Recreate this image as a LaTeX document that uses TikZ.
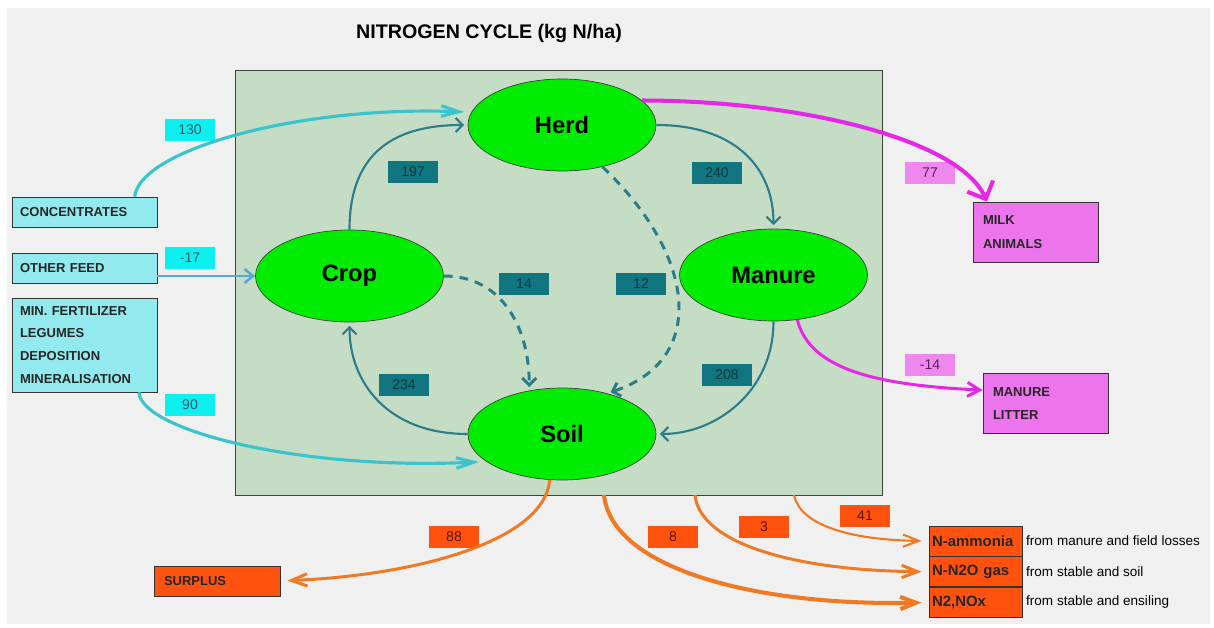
\documentclass[tikz,border=0pt]{standalone}
\usepackage{fontspec}
\setmainfont{Liberation Sans}
\usepackage{tikz}
\usetikzlibrary{positioning}
\usetikzlibrary{shapes.geometric}
\usetikzlibrary{arrows.meta}

\definecolor{bggray}{RGB}{240,240,240}
\definecolor{panelgreen}{RGB}{197,221,197}
\definecolor{poolgreen}{RGB}{0,236,0}
\definecolor{tealbox}{RGB}{18,118,128}
\definecolor{tealtext}{RGB}{8,56,64}
\definecolor{tealline}{RGB}{44,124,138}
\definecolor{cyanbox}{RGB}{12,240,240}
\definecolor{cyantext}{RGB}{40,90,110}
\definecolor{feedcyan}{RGB}{146,234,238}
\definecolor{concline}{RGB}{60,196,206}
\definecolor{ofline}{RGB}{90,166,214}
\definecolor{magline}{RGB}{230,40,230}
\definecolor{violetbox}{RGB}{238,136,238}
\definecolor{violettext}{RGB}{90,30,90}
\definecolor{milkbox}{RGB}{236,116,236}
\definecolor{orangebox}{RGB}{255,82,14}
\definecolor{orangetext}{RGB}{90,20,0}
\definecolor{orangeline}{RGB}{240,122,36}

\begin{document}
\begin{tikzpicture}
  [
    x=0.02cm, y=-0.02cm,
    pool/.style={ellipse, draw=black!75, fill=poolgreen, inner sep=0pt,
      minimum width=3.76cm, minimum height=1.84cm,
      font=\bfseries\fontsize{13.5}{15}\selectfont},
    num/.style={minimum width=1cm, minimum height=0.44cm, inner sep=0pt,
      font=\fontsize{8}{9}\selectfont},
    tnum/.style={num, fill=tealbox, text=tealtext},
    cnum/.style={num, fill=cyanbox, text=cyantext},
    mnum/.style={num, fill=violetbox, text=violettext},
    onum/.style={num, fill=orangebox, text=orangetext},
    srcbox/.style={draw=black!80, fill=feedcyan, text=black!85,
      text width=2.58cm, inner xsep=0.16cm, inner ysep=0pt, align=left,
      font=\bfseries\fontsize{7.4}{13}\selectfont},
    sinkbox/.style={draw=black!80, fill=milkbox, text=black!85,
      text width=2.1cm, inner xsep=0.2cm, inner ysep=0pt, align=left,
      minimum height=1.2cm, font=\bfseries\fontsize{7.4}{13.6}\selectfont},
    gasbox/.style={draw=black!80, fill=orangebox, text=black!85,
      text width=1.74cm, inner xsep=0.06cm, inner ysep=0pt, align=left,
      minimum height=0.6cm, font=\bfseries\fontsize{8.5}{10}\selectfont},
    note/.style={inner sep=0pt, font=\fontsize{7.7}{9}\selectfont},
    ld/.style={draw=tealline, line width=1.2pt, shorten >=2pt,
      -{Straight Barb[length=4pt,width=8pt]}},
    ldd/.style={ld, line width=1.7pt, dash pattern=on 5pt off 4pt},
    feed/.style={draw=concline, line width=1.8pt, shorten >=4pt,
      -{Straight Barb[length=10pt,width=6pt]}},
    ofarr/.style={draw=ofline, line width=1.4pt,
      -{Straight Barb[length=5pt,width=8pt]}},
    milkarr/.style={draw=magline, line width=2.3pt,
      -{Straight Barb[length=8pt,width=16pt]}},
    litarr/.style={draw=magline, line width=1.7pt,
      -{Straight Barb[length=7pt,width=8pt]}},
    lossarr/.style={draw=orangeline, line width=1.7pt, shorten >=4pt,
      -{Straight Barb[length=9pt,width=7pt]}}
  ]
  \fill [white] (0,0) rectangle (1214,628);
  \fill [bggray] (7,8) rectangle (1210,624);
  \useasboundingbox (0,0) rectangle (1214,628);

  \node (title) at (489,33) [font=\bfseries\fontsize{11.2}{13}\selectfont] {NITROGEN CYCLE (kg N/ha)};
  \node (panel) at (558.5,282.5) [draw=black!75, fill=panelgreen, inner sep=0pt,
    minimum width=12.94cm, minimum height=8.5cm] {};

  \node (herd)   at (562,125)   [pool] {Herd};
  \node (crop)   at (349.5,276) [pool] {Crop};
  \node (manure) at (773.5,275) [pool] {Manure};
  \node (soil)   at (562,434)   [pool] {Soil};

  \node (conc)  at (84.5,212) [srcbox, minimum height=0.6cm]  {CONCENTRATES};
  \node (ofeed) at (84.5,268) [srcbox, minimum height=0.6cm]  {OTHER FEED};
  \node (minf)  at (84.5,345) [srcbox, minimum height=1.88cm] {MIN. FERTILIZER\\ LEGUMES\\ DEPOSITION\\ MINERALISATION};

  \node (milk)   at (1035.5,232)   [sinkbox] {MILK\\ ANIMALS};
  \node (litter) at (1045.5,403.5) [sinkbox] {MANURE\\ LITTER};

  \node (surplus) at (217,581) [gasbox, text width=2.12cm, inner xsep=0.2cm,
    font=\bfseries\fontsize{7.4}{9}\selectfont] {SURPLUS};
  \node (nh3) at (975.5,541)        [gasbox] {N-ammonia};
  \node (n2o) [gasbox, below=0mm of nh3] {N-N2O gas};
  \node (nox) [gasbox, below=0mm of n2o] {N2,NOx};
  \node (nh3txt) [note, right=0.07cm of nh3] {from manure and field losses};
  \node (n2otxt) [note, right=0.07cm of n2o] {from stable and soil};
  \node (noxtxt) [note, right=0.07cm of nox] {from stable and ensiling};

  \node (f197) at (413,172)   [tnum] {197};
  \node (f240) at (717,173)   [tnum] {240};
  \node (f208) at (727,375)   [tnum] {208};
  \node (f234) at (404,385)   [tnum] {234};
  \node (f14)  at (524,284)   [tnum] {14};
  \node (f12)  at (641,284)   [tnum] {12};
  \node (f130) at (190,130)   [cnum] {130};
  \node (f17)  at (190,258)   [cnum] {-17};
  \node (f90)  at (190,405)   [cnum] {90};
  \node (f77)  at (930,173)   [mnum] {77};
  \node (f14m) at (930,365)   [mnum] {-14};
  \node (f88)  at (454,537)   [onum] {88};
  \node (f8)   at (673,537)   [onum] {8};
  \node (f3)   at (764,527)   [onum] {3};
  \node (f41)  at (865,516)   [onum] {41};

  \coordinate (nox0) at (604,495);
  \coordinate (n2o0) at (695,495);
  \coordinate (nh30) at (794,495);

  \draw [ld] (crop.north) .. controls +(0,-80) and +(-70,0) .. (herd.west);
  \draw [ld] (herd.east) .. controls +(80,0) and +(0,-60) .. (manure.north);
  \draw [ld] (manure.south) .. controls +(0,70) and +(60,0) .. (soil.east);
  \draw [ld] (soil.west) .. controls +(-80,0) and +(0,60) .. (crop.south);
  \draw [ldd] (crop.east) .. controls +(60,0) and +(0,-60) .. (soil.127);
  \draw [ldd] (herd.-46) .. controls +(95,90) and +(100,-33) .. (soil.42);

  \draw [feed] (conc.17) .. controls +(5,-47) and +(-171,-7) .. (herd.172);
  \draw [ofarr] (ofeed.east |- crop.west) -- (crop.west);
  \draw [feed] (minf.-41) .. controls +(2,38) and +(-186,9) .. (soil.-160);

  \draw [milkarr] (herd.17) .. controls +(158,0) and +(-27,-62) .. (milk.148);
  \draw [litarr] (manure.-62) .. controls +(13,51) and +(-103,-5) .. (litter.168);

  \draw [lossarr] (soil.-105) .. controls +(-5,60) and +(140,-6) .. (surplus.east);
  \draw [lossarr, line width=2.3pt] (nox0) .. controls +(8,75) and +(-169,4) .. (nox.west);
  \draw [lossarr] (n2o0) .. controls +(5,50) and +(-129,-1) .. (n2o.west);
  \draw [lossarr, line width=1.2pt] (nh30) .. controls +(6,30) and +(-79,-1) .. (nh3.west);
\end{tikzpicture}
\end{document}
